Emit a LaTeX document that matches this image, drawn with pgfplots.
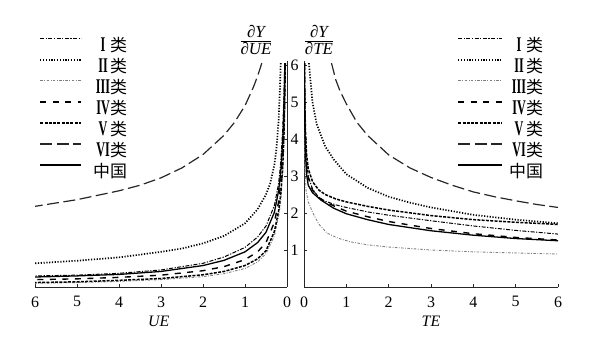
\documentclass[border=0pt]{standalone}
\usepackage{fontspec}
\IfFontExistsTF{LiberationSerif-Regular.ttf}{\setmainfont{LiberationSerif}[Extension=.ttf,UprightFont=*-Regular,ItalicFont=*-Italic,BoldFont=*-Bold,BoldItalicFont=*-BoldItalic]}{\setmainfont{Liberation Serif}}
\newfontfamily\cjk{Noto Sans CJK SC}
\usepackage{graphicx}
\usepackage{pgfplots}
\pgfplotsset{compat=1.18}

\newcommand{\rn}[1]{\makebox[14bp][c]{\fontsize{21}{21}\selectfont\bfseries\scalebox{0.58}[1]{#1}}}
\newcommand{\lei}{{\cjk\fontsize{17}{17}\selectfont 类}}
\newcommand{\zg}{{\cjk\fontsize{17}{17}\selectfont 中国}}

\pgfplotsset{
 sI/.style={black, line width=1.0pt, dash pattern=on 4bp off 1.5bp on 1.2bp off 1.5bp},
 sII/.style={black, line width=1.7pt, dash pattern=on 1.2bp off 1.6bp},
 sIII/.style={black!50, line width=0.9pt, dash pattern=on 2.5bp off 1.5bp on 0.8bp off 1.5bp},
 sIV/.style={black, line width=1.4pt, dash pattern=on 6bp off 6.5bp},
 sV/.style={black, line width=1.5pt, dash pattern=on 3bp off 1.3bp},
 sVI/.style={black!85, line width=1.2pt, dash pattern=on 12bp off 4.5bp},
 sCN/.style={black, line width=1.3pt},
 base/.style={scale only axis, height=225.7bp, ymin=0, ymax=6.1, ytick={1,...,6},
   axis line style={-, line width=0.9pt, black!85},
   tick style={black!85, line width=0.6pt}, major tick length=3bp,
   tick label style={font=\fontsize{16}{16}\selectfont},
   xticklabel style={yshift=-6bp},
   /pgf/number format/assume math mode=true,
   no markers, legend cell align=right,
   legend style={draw=none, fill=none, inner sep=0pt, outer sep=0pt, row sep=4bp,
     nodes={inner sep=0pt, text height=15bp, text depth=2bp}},
 },
}

\begin{document}
\begin{tikzpicture}
\path[use as bounding box] (0,0) rectangle (597bp,352bp);
% ---------------- left panel (UE) ----------------
\begin{axis}[base, at={(35bp,65bp)}, anchor=south west, width=252bp,
  xmin=-6, xmax=0, xtick={-6,...,0}, xticklabels={6,5,4,3,2,1,0},
  x filter/.expression={-x},
  axis x line*=bottom, axis y line*=right, tick align=inside,
  legend style={at={(0.365,1.108)}, anchor=north east},
  legend image code/.code={\draw[#1] (0bp,6.5bp) -- (41bp,6.5bp); \path (52bp,0bp);}]
\addplot[sI] coordinates {(0.055,6.05)(0.07,5.3)(0.1,4.3)(0.15,3.35)(0.2,2.8)(0.3,2.2)(0.5,1.65)(0.7,1.35)(1.0,1.07)(1.5,0.81)(2.0,0.64)(3.0,0.46)(4.0,0.37)(5.0,0.32)(6.0,0.30)};
\addlegendentry{\rn{I}\lei}
\addplot[sII] coordinates {(0.15,6.05)(0.17,5.3)(0.2,4.5)(0.25,3.75)(0.3,3.3)(0.4,2.8)(0.5,2.5)(0.7,2.1)(1.0,1.72)(1.5,1.38)(2.0,1.18)(2.5,1.04)(3.0,0.95)(4.0,0.8)(5.0,0.71)(6.0,0.64)};
\addlegendentry{\rn{II}\lei}
\addplot[sIII] coordinates {(0.035,6.05)(0.05,4.9)(0.07,4.0)(0.1,3.1)(0.15,2.3)(0.2,1.9)(0.3,1.38)(0.5,0.9)(0.7,0.68)(1.0,0.5)(1.5,0.36)(2.0,0.28)(3.0,0.2)(4.0,0.15)(5.0,0.12)(6.0,0.10)};
\addlegendentry{\rn{III}\lei}
\addplot[sIV] coordinates {(0.045,6.05)(0.06,5.0)(0.08,4.2)(0.1,3.6)(0.15,2.8)(0.2,2.3)(0.3,1.75)(0.5,1.2)(0.7,0.95)(1.0,0.74)(1.5,0.55)(2.0,0.44)(3.0,0.32)(4.0,0.26)(5.0,0.22)(6.0,0.2)};
\addlegendentry{\rn{IV}\lei}
\addplot[sV] coordinates {(0.04,6.05)(0.055,5.0)(0.07,4.2)(0.1,3.3)(0.15,2.5)(0.2,2.05)(0.3,1.5)(0.5,0.98)(0.7,0.76)(1.0,0.58)(1.5,0.42)(2.0,0.33)(3.0,0.23)(4.0,0.18)(5.0,0.14)(6.0,0.12)};
\addlegendentry{\rn{V}\lei}
\addplot[sVI] coordinates {(0.6,6.05)(0.7,5.7)(0.8,5.4)(1.0,4.9)(1.25,4.45)(1.5,4.1)(2.0,3.58)(2.5,3.22)(3.0,2.95)(3.5,2.75)(4.0,2.6)(4.5,2.48)(5.0,2.36)(5.5,2.27)(6.0,2.18)};
\addlegendentry{\rn{VI}\lei}
\addplot[sCN] coordinates {(0.05,6.05)(0.07,5.0)(0.1,4.0)(0.15,3.1)(0.2,2.6)(0.3,2.02)(0.5,1.48)(0.7,1.2)(1.0,0.95)(1.5,0.72)(2.0,0.58)(3.0,0.42)(4.0,0.34)(5.0,0.3)(6.0,0.27)};
\addlegendentry{\zg}
\end{axis}
% ---------------- right panel (TE) ----------------
\begin{axis}[base, at={(304bp,65bp)}, anchor=south west, width=254bp,
  xmin=0, xmax=6, xtick={0,...,6},
  axis x line*=bottom, axis y line*=left, tick align=inside, yticklabels={},
  legend style={at={(0.941,1.108)}, anchor=north east},
  legend image code/.code={\draw[#1] (0bp,6.5bp) -- (44bp,6.5bp); \path (50bp,0bp);}]
\addplot[sI] coordinates {(0.012,6.05)(0.02,4.9)(0.035,4.0)(0.06,3.4)(0.1,3.0)(0.2,2.65)(0.35,2.42)(0.5,2.32)(0.75,2.22)(1.0,2.15)(1.5,2.03)(2.0,1.94)(3.0,1.79)(4.0,1.65)(5.0,1.53)(6.0,1.43)};
\addlegendentry{\rn{I}\lei}
\addplot[sII] coordinates {(0.115,6.05)(0.15,5.6)(0.2,5.0)(0.3,4.4)(0.4,4.1)(0.5,3.8)(0.7,3.45)(1.0,3.05)(1.5,2.68)(2.0,2.44)(2.5,2.28)(3.0,2.15)(4.0,1.95)(5.0,1.82)(6.0,1.72)};
\addlegendentry{\rn{II}\lei}
\addplot[sIII] coordinates {(0.003,6.05)(0.008,4.3)(0.02,3.2)(0.05,2.6)(0.1,2.3)(0.21,2.0)(0.35,1.7)(0.54,1.46)(0.8,1.32)(1.1,1.22)(1.5,1.14)(2.0,1.08)(3.0,1.0)(4.0,0.95)(5.0,0.92)(6.0,0.89)};
\addlegendentry{\rn{III}\lei}
\addplot[sIV] coordinates {(0.01,6.05)(0.02,4.7)(0.035,3.9)(0.06,3.3)(0.1,2.95)(0.2,2.62)(0.35,2.42)(0.5,2.3)(0.75,2.17)(1.0,2.05)(1.5,1.9)(2.0,1.77)(3.0,1.58)(4.0,1.44)(5.0,1.34)(6.0,1.27)};
\addlegendentry{\rn{IV}\lei}
\addplot[sV] coordinates {(0.012,6.05)(0.02,5.0)(0.035,4.2)(0.06,3.6)(0.1,3.2)(0.2,2.85)(0.35,2.62)(0.5,2.5)(0.75,2.38)(1.0,2.3)(1.5,2.18)(2.0,2.08)(3.0,1.93)(4.0,1.82)(5.0,1.75)(6.0,1.69)};
\addlegendentry{\rn{V}\lei}
\addplot[sVI] coordinates {(0.65,6.05)(0.75,5.6)(0.85,5.3)(1.0,4.95)(1.25,4.45)(1.5,4.1)(2.0,3.57)(2.5,3.22)(3.0,2.96)(3.5,2.75)(4.0,2.57)(4.5,2.44)(5.0,2.33)(5.5,2.23)(6.0,2.15)};
\addlegendentry{\rn{VI}\lei}
\addplot[sCN] coordinates {(0.01,6.05)(0.02,4.4)(0.035,3.6)(0.06,3.05)(0.1,2.75)(0.2,2.55)(0.4,2.35)(0.7,2.13)(1.0,1.98)(1.5,1.82)(2.0,1.69)(3.0,1.52)(4.0,1.4)(5.0,1.31)(6.0,1.25)};
\addlegendentry{\zg}
\end{axis}
% ---------------- labels ----------------
\node[font=\fontsize{16}{16}\selectfont\itshape] at (158.7bp,31bp) {UE};
\node[font=\fontsize{16}{16}\selectfont\itshape] at (431bp,31bp) {TE};
\node at (256bp,312bp) {$\displaystyle\frac{\hbox{\fontsize{17}{17}\selectfont\itshape ∂Y}}{\hbox{\fontsize{17}{17}\selectfont\itshape ∂UE}}$};
\node at (319bp,312bp) {$\displaystyle\frac{\hbox{\fontsize{17}{17}\selectfont\itshape ∂Y}}{\hbox{\fontsize{17}{17}\selectfont\itshape ∂TE}}$};
\end{tikzpicture}
\end{document}
